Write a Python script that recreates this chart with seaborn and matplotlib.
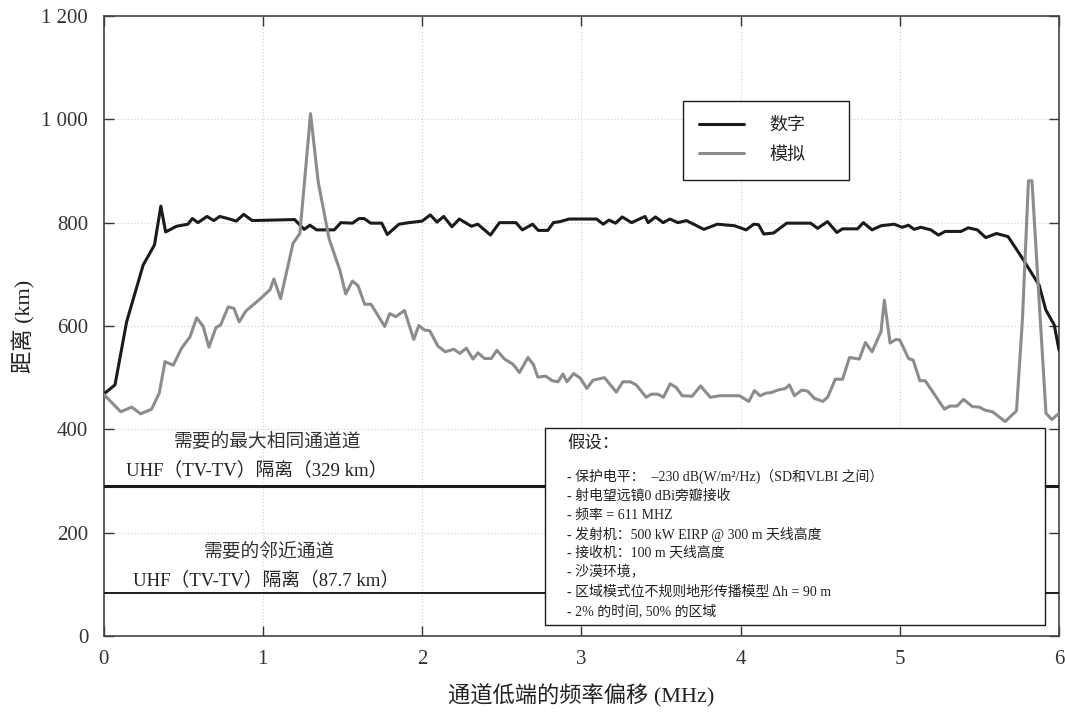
import numpy as np
import pandas as pd
import seaborn as sns
import matplotlib.pyplot as plt
from matplotlib.patches import Rectangle
from matplotlib.lines import Line2D
from matplotlib.ticker import FuncFormatter

# digital (数字) separation distance curve, km vs MHz
digital_x = [0, 0.072, 0.145, 0.249, 0.32, 0.36, 0.39, 0.458, 0.53, 0.558, 0.593, 0.65, 0.692, 0.73,
             0.78, 0.834, 0.88, 0.934, 1.2, 1.26, 1.296, 1.338, 1.449, 1.49, 1.563, 1.605, 1.636, 1.678,
             1.747, 1.782, 1.855, 1.918, 2.0, 2.052, 2.094, 2.136, 2.188, 2.234, 2.31, 2.35, 2.43, 2.486,
             2.59, 2.63, 2.694, 2.73, 2.79, 2.825, 2.867, 2.924, 3.096, 3.138, 3.174, 3.215, 3.257, 3.316,
             3.4, 3.42, 3.466, 3.514, 3.556, 3.607, 3.66, 3.77, 3.854, 3.962, 4.035, 4.083, 4.113, 4.146,
             4.208, 4.29, 4.44, 4.484, 4.546, 4.605, 4.64, 4.734, 4.771, 4.826, 4.882, 4.965, 5.014, 5.055,
             5.09, 5.133, 5.195, 5.243, 5.285, 5.384, 5.43, 5.487, 5.54, 5.607, 5.68, 5.77, 5.875, 5.917,
             5.97, 6.0]
digital_y = [468, 486, 608, 718, 757, 832, 782, 793, 797, 808, 800, 812, 804, 812,
             808, 803, 816, 804, 806, 787, 795, 786, 786, 800, 799, 808, 808, 799,
             799, 777, 797, 800, 803, 815, 801, 812, 792, 807, 793, 797, 776, 800,
             800, 786, 797, 785, 785, 800, 802, 807, 807, 797, 805, 799, 811, 800,
             812, 800, 811, 800, 807, 800, 804, 787, 797, 794, 786, 797, 796, 778,
             780, 799, 799, 789, 802, 781, 788, 788, 800, 786, 794, 797, 791, 795,
             787, 791, 786, 776, 783, 783, 790, 786, 771, 779, 773, 731, 679, 631,
             602, 553]

# analogue (模拟) curve
analog_x = [0, 0.108, 0.177, 0.233, 0.302, 0.35, 0.386, 0.438, 0.49, 0.543, 0.585, 0.626, 0.662, 0.706,
            0.735, 0.783, 0.819, 0.852, 0.894, 0.982, 1.045, 1.07, 1.112, 1.19, 1.233, 1.3, 1.348, 1.417,
            1.484, 1.521, 1.563, 1.598, 1.64, 1.68, 1.766, 1.797, 1.835, 1.89, 1.948, 1.98, 2.016, 2.048,
            2.1, 2.146, 2.2, 2.237, 2.279, 2.32, 2.352, 2.393, 2.435, 2.47, 2.518, 2.571, 2.612, 2.665,
            2.7, 2.727, 2.776, 2.818, 2.853, 2.885, 2.91, 2.952, 2.994, 3.035, 3.073, 3.146, 3.22, 3.261,
            3.307, 3.345, 3.408, 3.44, 3.48, 3.516, 3.558, 3.596, 3.634, 3.696, 3.749, 3.81, 3.868, 3.994,
            4.052, 4.087, 4.123, 4.16, 4.192, 4.234, 4.282, 4.307, 4.338, 4.386, 4.421, 4.464, 4.516, 4.547,
            4.595, 4.641, 4.684, 4.746, 4.784, 4.826, 4.882, 4.903, 4.939, 4.976, 5.0, 5.055, 5.084, 5.126,
            5.16, 5.28, 5.314, 5.36, 5.4, 5.456, 5.5, 5.535, 5.582, 5.662, 5.733, 5.77, 5.808, 5.83,
            5.866, 5.918, 5.955, 6.0]
analog_y = [468, 434, 443, 430, 439, 470, 531, 524, 557, 579, 616, 599, 559, 597,
            602, 637, 634, 608, 629, 652, 670, 691, 653, 760, 779, 1011, 879, 768,
            708, 662, 687, 678, 642, 642, 599, 624, 618, 630, 574, 601, 592, 591,
            561, 550, 555, 547, 557, 536, 548, 537, 537, 553, 536, 526, 510, 539,
            525, 501, 503, 494, 492, 507, 492, 508, 499, 479, 495, 500, 472, 492,
            492, 486, 462, 468, 468, 462, 488, 481, 465, 464, 484, 462, 465, 465,
            454, 475, 465, 470, 471, 476, 479, 486, 465, 476, 474, 460, 454, 462,
            497, 497, 539, 536, 568, 550, 589, 650, 567, 574, 573, 537, 534, 494,
            494, 439, 445, 445, 458, 444, 443, 437, 434, 415, 436, 612, 881, 881,
            695, 431, 419, 431]

series_names = ["数字", "模拟"]
series_colors = ["#1c1a1a", "#8c8c8c"]

# required separation lines (drawn level) and their labels
sep_levels = [290, 83]
sep_labels = [("需要的最大相同通道道", "UHF（TV-TV）隔离（329 km）"),
              ("需要的邻近通道", "UHF（TV-TV）隔离（87.7 km）")]

notes_title = "假设："
notes = ["- 保护电平：  –230 dB(W/m²/Hz)（SD和VLBI 之间）",
         "- 射电望远镜0 dBi旁瓣接收",
         "- 频率 = 611 MHZ",
         "- 发射机：500 kW EIRP @ 300 m 天线高度",
         "- 接收机：100 m 天线高度",
         "- 沙漠环境，",
         "- 区域模式位不规则地形传播模型 Δh = 90 m",
         "- 2% 的时间, 50% 的区域"]

x_ticks = [0, 1, 2, 3, 4, 5, 6]
y_ticks = [0, 200, 400, 600, 800, 1000, 1200]

df = pd.concat([
    pd.DataFrame({"freq": digital_x, "dist": digital_y, "type": series_names[0]}),
    pd.DataFrame({"freq": analog_x, "dist": analog_y, "type": series_names[1]}),
], ignore_index=True)

sns.set_theme(style="ticks")
plt.rcParams['font.family'] = ['Liberation Serif', 'Noto Sans CJK SC', 'DejaVu Sans']
plt.rcParams['axes.unicode_minus'] = False

fig = plt.figure(figsize=(10.65, 7.13), dpi=100)
ax = fig.add_axes([0.0972, 0.108, 0.8972, 0.8696])

ax.grid(True, linestyle=(0, (1, 2)), color="#cfcfcf", linewidth=0.8)
ax.set_axisbelow(True)

palette = dict(zip(series_names, series_colors))
sns.lineplot(data=df, x="freq", y="dist", hue="type", palette=palette,
             estimator=None, linewidth=2.2, legend=False, ax=ax, zorder=3)

for lvl, lw in zip(sep_levels, [2.2, 1.4]):
    ax.axhline(lvl, color="#1c1a1a", linewidth=lw, zorder=3)

ax.text(1.03, 377, sep_labels[0][0], ha="center", va="center", fontsize=13.5, color="#333333")
ax.text(0.96, 321, sep_labels[0][1], ha="center", va="center", fontsize=13.5, color="#222222")
ax.text(1.04, 164, sep_labels[1][0], ha="center", va="center", fontsize=13.5, color="#333333")
ax.text(1.02, 108, sep_labels[1][1], ha="center", va="center", fontsize=13.5, color="#222222")

ax.set_xlim(0, 6)
ax.set_ylim(0, 1200)
ax.set_xticks(x_ticks)
ax.set_yticks(y_ticks)
ax.yaxis.set_major_formatter(FuncFormatter(lambda v, p: f"{int(v):,}".replace(",", " ")))
ax.tick_params(direction="in", length=7, width=1, top=True, right=True,
               labelsize=15, colors="#333333")
ax.tick_params(axis="x", pad=10)
ax.tick_params(axis="y", pad=11)
for s in ax.spines.values():
    s.set_color("#444444")
    s.set_linewidth(1.2)

ax.set_xlabel("通道低端的频率偏移 (MHz)", fontsize=16, labelpad=10, color="#222222")
ax.set_ylabel("距离 (km)", fontsize=16, labelpad=4, color="#222222")

handles = [Line2D([0], [0], color=c, lw=2.2) for c in series_colors]
leg = ax.legend(handles, series_names, loc="upper left", mode="expand",
                bbox_to_anchor=(0.606, 0.737, 0.174, 0.126), fancybox=False,
                edgecolor="#1c1a1a", framealpha=1, fontsize=13, borderpad=0.9,
                handlelength=2.5, handletextpad=1.4, labelspacing=0.7, borderaxespad=0)
leg.get_frame().set_linewidth(1.0)
leg.set_zorder(6)

# assumptions box
ax.add_patch(Rectangle((0.462, 0.018), 0.523, 0.317, transform=ax.transAxes,
                       facecolor="white", edgecolor="#1c1a1a", linewidth=1.0, zorder=5))
ax.text(0.485, 0.31, notes_title, transform=ax.transAxes, fontsize=12.5,
        va="center", ha="left", zorder=7, color="#222222")
for i, line in enumerate(notes):
    ax.text(0.485, 0.257 - i * 0.0309, line, transform=ax.transAxes, fontsize=10,
            va="center", ha="left", zorder=7, color="#222222")

fig.savefig("out.png", dpi=100)
